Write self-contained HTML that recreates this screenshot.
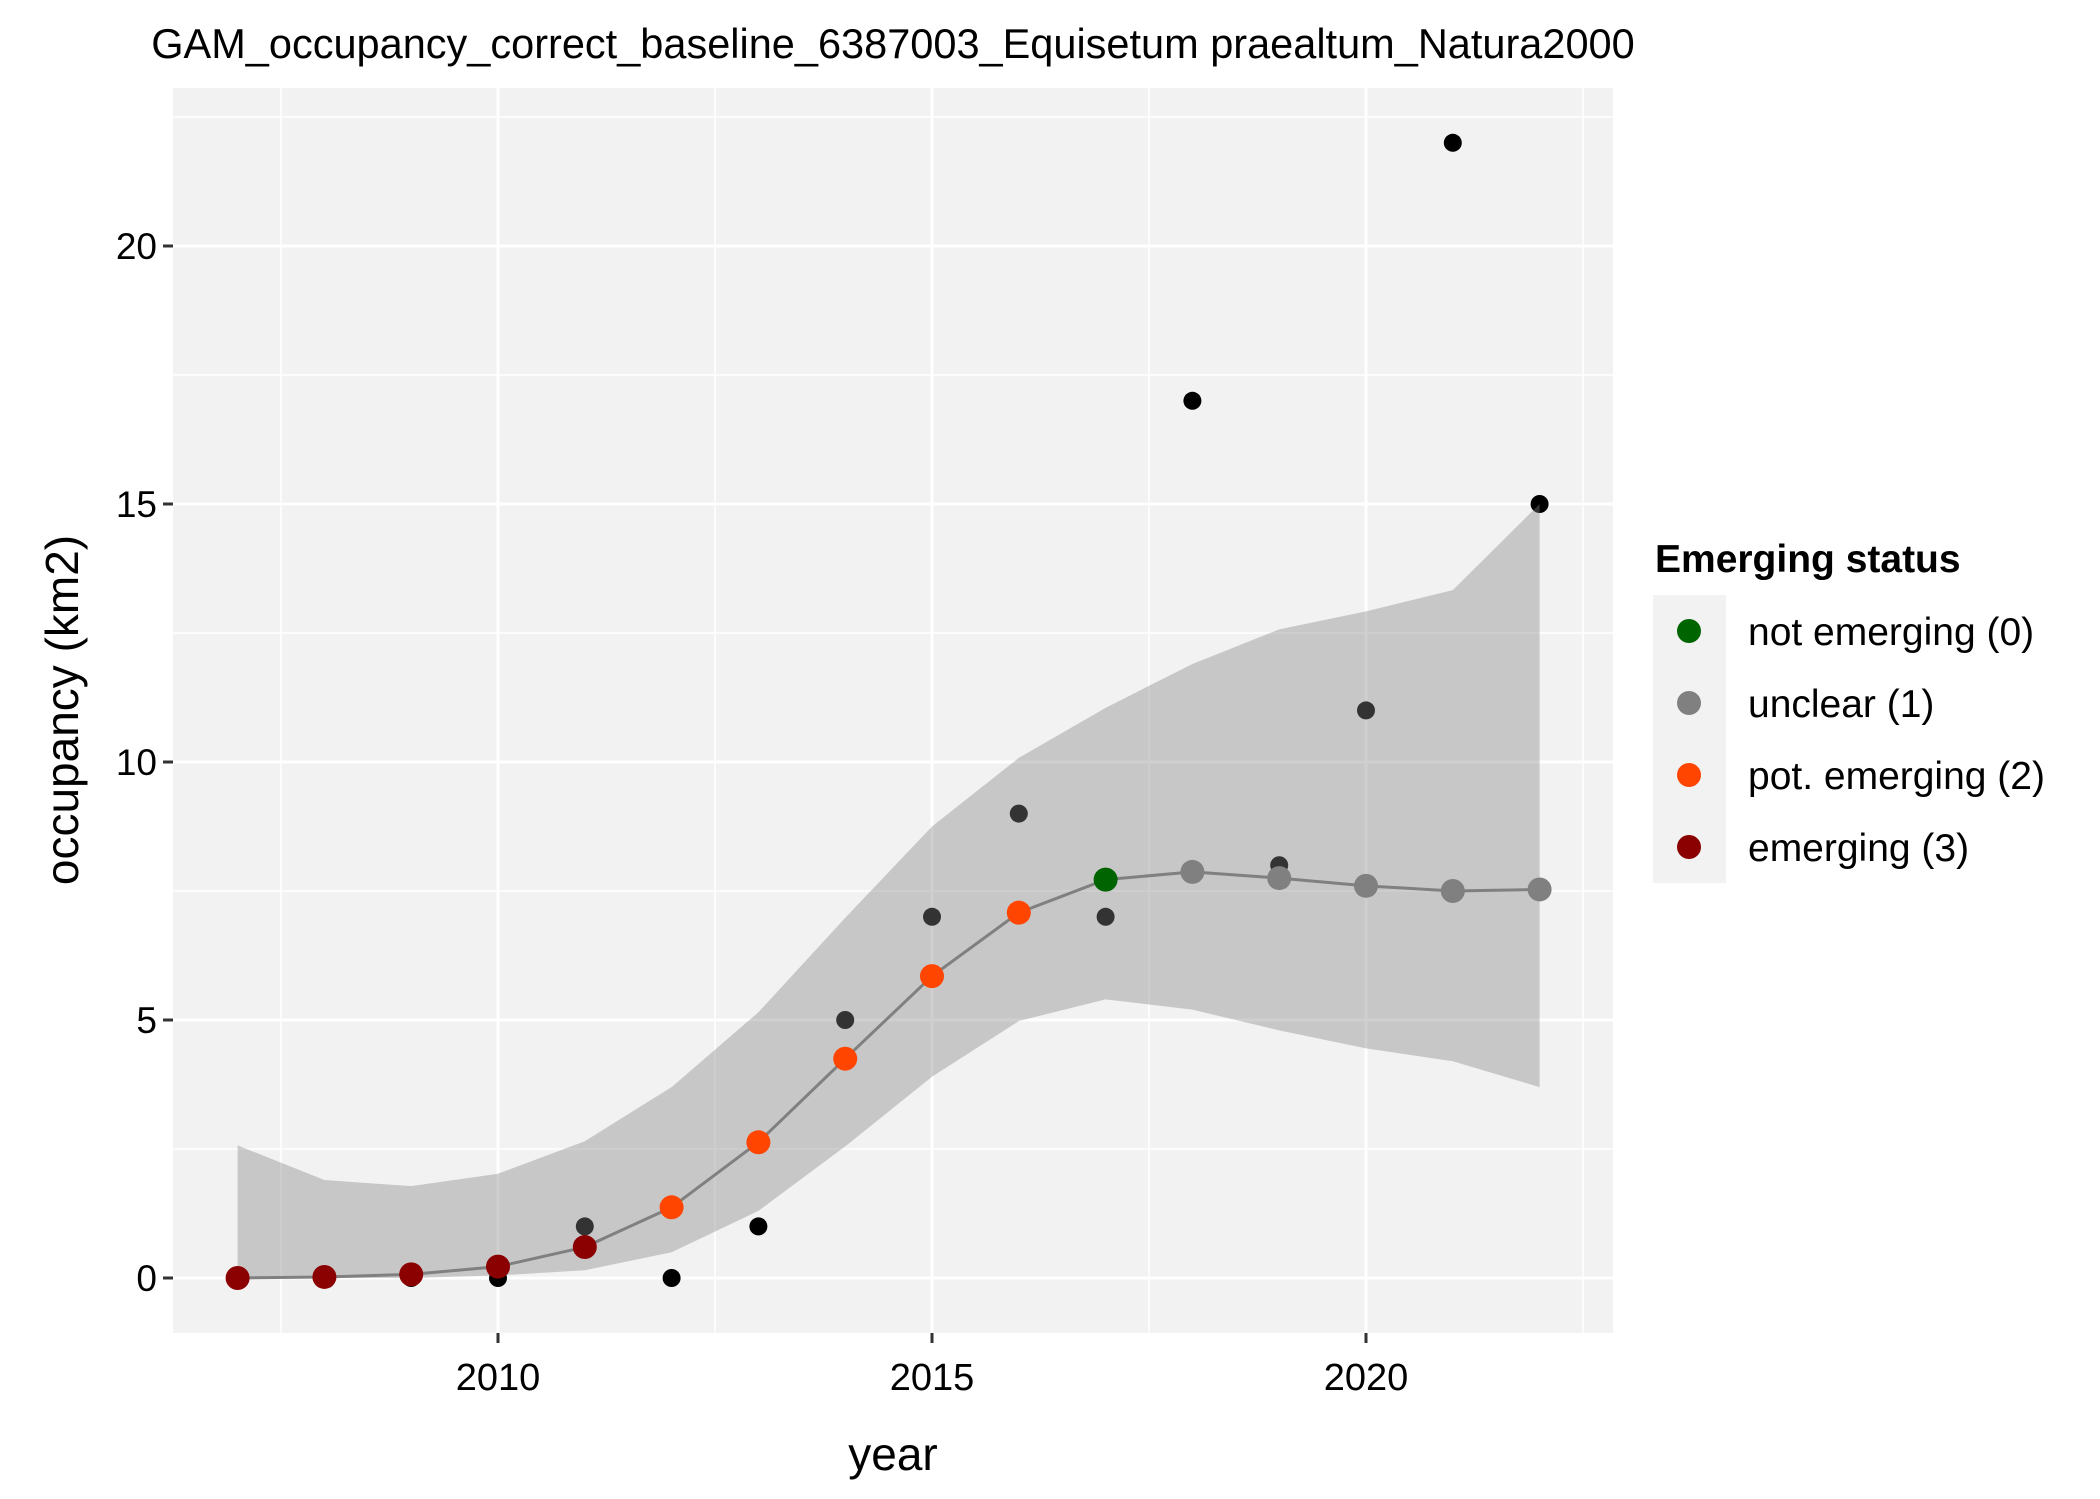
<!DOCTYPE html>
<html><head><meta charset="utf-8"><style>
html,body{margin:0;padding:0;background:#fff;}
svg{display:block;font-family:"Liberation Sans",Arial,sans-serif;}
</style></head><body>
<svg id="chart" width="2100" height="1499" viewBox="0 0 2100 1499" xmlns="http://www.w3.org/2000/svg">
<rect x="0" y="0" width="2100" height="1499" fill="#fff"/>
<text x="893" y="58" font-size="41.5" text-anchor="middle">GAM_occupancy_correct_baseline_6387003_Equisetum praealtum_Natura2000</text>
<rect x="173" y="88" width="1440" height="1245" fill="#f2f2f2"/>
<g id="grid"></g>
<g id="obs"></g>
<g id="ribbon"></g>
<g id="fit"></g>
<g id="axes"></g>
<text x="893" y="1470" font-size="46" text-anchor="middle">year</text>
<text transform="translate(78,710) rotate(-90)" font-size="46" text-anchor="middle">occupancy (km2)</text>
<g>
<text x="1655" y="572" font-size="39" font-weight="bold">Emerging status</text>
<rect x="1653" y="595" width="73" height="288" fill="#f2f2f2"/>
<g><circle cx="1689" cy="631" r="12" fill="#006400"/><text x="1748" y="645" font-size="39">not emerging (0)</text></g>
<g><circle cx="1689" cy="703" r="12" fill="#808080"/><text x="1748" y="717" font-size="39">unclear (1)</text></g>
<g><circle cx="1689" cy="775" r="12" fill="#FF4500"/><text x="1748" y="789" font-size="39">pot. emerging (2)</text></g>
<g><circle cx="1689" cy="847" r="12" fill="#8B0000"/><text x="1748" y="861" font-size="39">emerging (3)</text></g>
</g>
</svg>
<script>
const years = [2007,2008,2009,2010,2011,2012,2013,2014,2015,2016,2017,2018,2019,2020,2021,2022];
const observed = [0,0,0,0,1,0,1,5,7,9,7,17,8,11,22,15];
const fitted = [0,0.02,0.07,0.22,0.6,1.37,2.63,4.25,5.85,7.08,7.72,7.87,7.75,7.6,7.5,7.53];
const upper = [2.57,1.9,1.78,2.02,2.65,3.7,5.15,6.98,8.75,10.08,11.05,11.9,12.57,12.92,13.33,15.0];
const lower = [0,0,0,0.05,0.15,0.5,1.3,2.55,3.9,4.98,5.4,5.2,4.8,4.45,4.2,3.7];
const status = [3,3,3,3,3,2,2,2,2,2,0,1,1,1,1,1];
const statusColors = ["#006400","#808080","#FF4500","#8B0000"];
const statusNames = ["not-emerging","unclear","pot-emerging","emerging"];
const xTicks = [2010,2015,2020];
const xMinor = [2007.5,2012.5,2017.5,2022.5];
const yTicks = [0,5,10,15,20];
const yMinor = [2.5,7.5,12.5,17.5,22.5];

const NS = "http://www.w3.org/2000/svg";
const X = v => 498 + (v - 2010) * 86.8;
const Y = v => 1278 - v * 51.6;
const PL = 173, PR = 1613, PT = 88, PB = 1333;
function mk(tag, attrs, parent){
  const e = document.createElementNS(NS, tag);
  for (const k in attrs) e.setAttribute(k, attrs[k]);
  parent.appendChild(e); return e;
}
const grid = document.getElementById('grid');
yMinor.forEach(v => { const y=Y(v); if(y<PT) return;
  const l = mk('line',{x1:PL,x2:PR,y1:y,y2:y,stroke:'#fff','stroke-width':1.5},grid);
  
   });
xMinor.forEach(v => { const x=X(v);
  const l = mk('line',{x1:x,x2:x,y1:PT,y2:PB,stroke:'#fff','stroke-width':1.5},grid);
  
   });
yTicks.forEach(v => { const y=Y(v);
  const l = mk('line',{x1:PL,x2:PR,y1:y,y2:y,stroke:'#fff','stroke-width':3},grid);
  
   });
xTicks.forEach(v => { const x=X(v);
  const l = mk('line',{x1:x,x2:x,y1:PT,y2:PB,stroke:'#fff','stroke-width':3},grid);
  
   });

const obs = document.getElementById('obs');
years.forEach((yr,i) => {
  const c = mk('circle',{cx:X(yr),cy:Y(observed[i]),r:9,fill:'#000'},obs);
  
  
});

const rib = document.getElementById('ribbon');
let pts = years.map((yr,i)=>X(yr)+','+Y(upper[i]));
for (let i=years.length-1;i>=0;i--) pts.push(X(years[i])+','+Y(lower[i]));
const poly = mk('polygon',{points:pts.join(' '),fill:'#838383','fill-opacity':0.39},rib);



const fit = document.getElementById('fit');
const line = mk('polyline',{points:years.map((yr,i)=>X(yr)+','+Y(fitted[i])).join(' '),fill:'none',stroke:'#808080','stroke-width':3},fit);


years.forEach((yr,i) => {
  const c = mk('circle',{cx:X(yr),cy:Y(fitted[i]),r:12,fill:statusColors[status[i]]},fit);
  
  
});

const axes = document.getElementById('axes');
yTicks.forEach(v => { const y=Y(v);
  const t = mk('line',{x1:PL-10,x2:PL,y1:y,y2:y,stroke:'#333','stroke-width':3},axes);
  
  
  const tx = mk('text',{x:PL-16,y:y+13,'font-size':37,'text-anchor':'end',fill:'#000'},axes);
  tx.textContent = v;
  
   });
xTicks.forEach(v => { const x=X(v);
  const t = mk('line',{x1:x,x2:x,y1:PB,y2:PB+10,stroke:'#333','stroke-width':3},axes);
  
  
  const tx = mk('text',{x:x,y:1390,'font-size':38,'text-anchor':'middle',fill:'#000'},axes);
  tx.textContent = v;
  
   });
</script>
</body></html>
